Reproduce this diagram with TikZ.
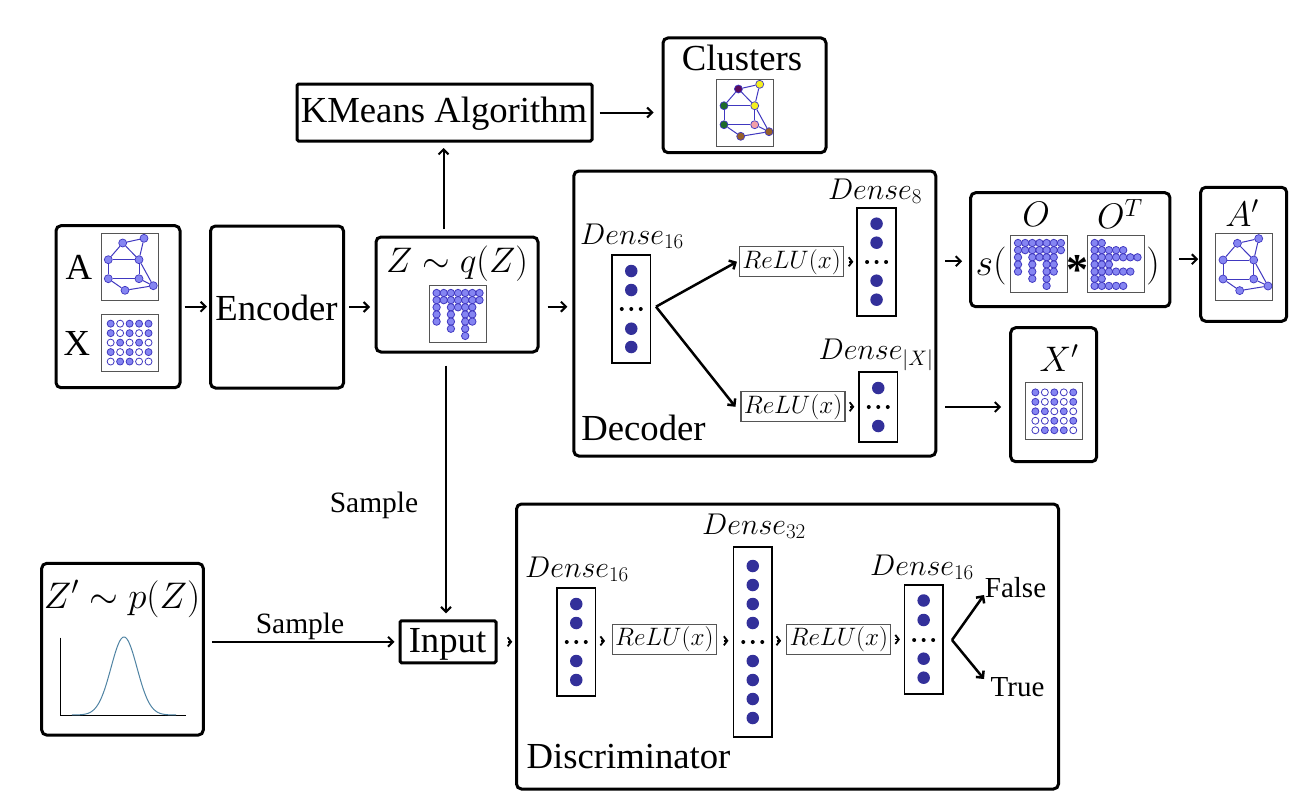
\RequirePackage{fix-cm}
\documentclass[tikz,border=0pt]{standalone}
\usepackage[no-math]{fontspec}
\setmainfont{Liberation Serif}
\usetikzlibrary{arrows.meta,calc}
\definecolor{gfill}{HTML}{8585F2}
\definecolor{gline}{HTML}{4038C0}
\definecolor{denseblue}{HTML}{33309A}
\definecolor{framegray}{HTML}{555555}
\definecolor{bell}{HTML}{4F83A3}
\definecolor{cpurple}{HTML}{5A0A5E}
\definecolor{cyellow}{HTML}{F5F01E}
\definecolor{cgreen}{HTML}{1E6B2A}
\definecolor{cpink}{HTML}{F2A0A8}
\definecolor{cbrown}{HTML}{96602A}
\tikzset{
  outerbox/.style={draw=black,line width=3pt,rounded corners=5pt,inner sep=0pt,fill=white},
  squarebox/.style={draw=black,line width=3pt,rounded corners=1.5pt,inner sep=0pt,fill=white},
  imgbox/.style={draw=framegray,line width=1pt,inner sep=0pt,fill=white},
  layerbox/.style={draw=black,line width=1.8pt,inner sep=0pt,minimum width=38.5pt,fill=white},
  relubox/.style={draw=framegray,line width=1.1pt,inner sep=0pt,minimum width=104pt,minimum height=30pt,fill=white,font=\fontsize{25.2}{27}\selectfont},
  gnode/.style={circle,draw=gline,line width=.7pt,inner sep=0pt,minimum size=8pt},
  gedge/.style={draw=gline,line width=1pt},
  mdot/.style={circle,draw=gline,line width=.8pt,inner sep=0pt,minimum size=7pt},
  bigdot/.style={circle,fill=denseblue,inner sep=0pt,minimum size=12.5pt},
  blackdot/.style={circle,fill=black,inner sep=0pt,minimum size=4pt},
  arr/.style={draw=black,line width=2pt,-{Straight Barb[length=5pt,width=10pt]}},
  branch/.style={arr,line width=2.5pt},
  chevarr/.style={draw=black,line width=1.8pt,-{Straight Barb[length=3.5pt,width=9pt]}},
  txt/.style={inner sep=0pt,font=\fontsize{36.7}{40}\selectfont},
  small/.style={inner sep=0pt,font=\fontsize{29.5}{31}\selectfont},
  mth/.style={inner sep=0pt,font=\fontsize{35.5}{38}\selectfont},
  dns/.style={inner sep=0pt,font=\fontsize{30}{32}\selectfont},
}
\newcommand{\graphpic}[3]{%
  \node[imgbox,minimum width=57pt,minimum height=67pt] (#1) at (#2+28.5,#3+33.5) {};
  \foreach \n/\a/\b in {a/21.7/10,b/43/5.3,c/7.3/26.7,d/38/26.7,e/7.3/45.7,f/38/45.7,g/24/57.3,h/52.3/52.7}
    \node[gnode,fill=\csname col\n\endcsname] (#1\n) at (#2+\a,#3+\b) {};
  \foreach \u/\v in {a/b,a/c,a/d,b/d,c/d,c/e,d/f,e/f,e/g,g/h,f/h,d/h}
    \draw[gedge] (#1\u) -- (#1\v);
}
\newcommand{\setcols}[8]{\def\cola{#1}\def\colb{#2}\def\colc{#3}\def\cold{#4}\def\cole{#5}\def\colf{#6}\def\colg{#7}\def\colh{#8}}
\newcommand{\featbox}[4]{%
  \node[imgbox,minimum width=57pt,minimum height=57pt] (#1) at (#2+28.5,#3+28.5) {};
  \foreach \row [count=\j] in {#4}
    \foreach \v [count=\i] in \row {
      \ifnum\v=1\def\fc{gfill}\else\def\fc{white}\fi
      \node[mdot,fill=\fc] (#1-\j-\i) at (#2+.2+9.47*\i,#3+.2+9.47*\j) {};
    }
}
\newcommand{\outbox}[4]{%
  \node[imgbox,minimum width=57pt,minimum height=57pt] (#1) at (#2+28.5,#3+28.5) {};
  \foreach \row [count=\j] in {#4}
    \foreach \v [count=\i] in \row {
      \ifnum\v=1
      \node[mdot,fill=gfill,minimum size=7.4pt] (#1-\j-\i) at (#2+.15+7.15*\i,#3+.15+7.15*\j) {};
      \fi
    }
}
\newcommand{\layer}[6]{%
  \node[layerbox,minimum height={(#4-#3)*1pt}] (#1) at (#2+19.25,{(#3+#4)/2}) {};
  \foreach \y [count=\k] in {#5}
    \node[bigdot] (#1-\k) at (#2+19.25,\y) {};
  \foreach \d [count=\k] in {-9.5,0,9.5}
    \node[blackdot] (#1-e\k) at (#2+19.25+\d,#6) {};
}
\newcommand{\chev}[3]{\draw[chevarr] ($(#1)!#3!(#2)+(-2,0)$) -- ($(#1)!#3!(#2)+(2.5,0)$);}
\begin{document}
\begin{tikzpicture}[x=1pt,y=-1pt]
\useasboundingbox (0,0) rectangle (1308,811);
\node[outerbox,minimum width=124pt,minimum height=162pt] (ax) at (118,306.7) {};
\node[outerbox,minimum width=133pt,minimum height=162pt] (enc) at (277,307) {};
\node[txt] (enclab) at (276.5,308) {Encoder};
\node[outerbox,minimum width=162pt,minimum height=115pt] (z) at (457,294.5) {};
\node[squarebox,minimum width=295pt,minimum height=57pt] (km) at (444.5,112.5) {};
\node[txt] (kmlab) at (444,114) {KMeans Algorithm};
\node[outerbox,minimum width=163pt,minimum height=114.7pt] (cl) at (744.5,95.3) {};
\node[txt] (cllab) at (742,58) {Clusters};
\node[outerbox,minimum width=362pt,minimum height=285pt] (dec) at (754.8,313.5) {};
\node[outerbox,minimum width=199.3pt,minimum height=114pt] (o) at (1070.3,249.7) {};
\node[outerbox,minimum width=86pt,minimum height=134pt] (ap) at (1243.7,254.3) {};
\node[outerbox,minimum width=86pt,minimum height=134pt] (xp) at (1053.7,394.7) {};
\node[outerbox,minimum width=542pt,minimum height=285pt] (disc) at (787.5,646.5) {};
\node[outerbox,minimum width=161.6pt,minimum height=171.7pt] (zp) at (122.5,649.2) {};
\node[squarebox,minimum width=96pt,minimum height=42pt] (inp) at (448,641.8) {};
\node[txt] (inplab) at (447.5,644) {Input};
\node[txt] (alab) at (79,267) {A};
\node[txt] (xlab) at (77,343) {X};
\setcols{gfill}{gfill}{gfill}{gfill}{gfill}{gfill}{gfill}{gfill}
\graphpic{ga}{101}{233}
\featbox{mx}{101}{314}{{1,0,1,1,1},{1,0,1,0,1},{0,1,0,1,0},{1,0,1,0,1},{0,1,1,0,0}}
\node[mth] (zlab) at (457,264) {$Z\sim q(Z)$};
\outbox{mz}{429.3}{285.7}{{1,1,1,1,1,1,1},{1,1,1,1,1,1,1},{1,0,1,1,1,1,0},{1,0,1,0,1,1,0},{1,0,1,0,1,1,0},{0,0,1,0,1,0,0},{0,0,0,0,1,0,0}}
\setcols{cpurple}{cyellow}{cgreen}{cyellow}{cgreen}{cpink}{cbrown}{cbrown}
\graphpic{gc}{716.7}{79}
\node[txt] (declab) at (643.5,428) {Decoder};
\layer{d1}{612}{255}{363.3}{271,290,328.7,347}{309}
\node[dns] (d1lab) at (632,236) {$Dense_{16}$};
\node[relubox] (r1) at (791.5,261.7) {$ReLU(x)$};
\layer{d2}{857.3}{207.7}{316}{223.7,242.7,280.7,299.7}{262}
\node[dns] (d2lab) at (875,191) {$Dense_{8}$};
\node[relubox] (r2) at (793,406.8) {$ReLU(x)$};
\layer{d3}{859}{371.7}{441.7}{388,426}{407}
\node[dns] (d3lab) at (876,355) {$Dense_{|X|}$};
\coordinate (split) at (656,306.7);
\draw[branch] (split) -- ([xshift=-2pt]r1.west);
\draw[branch] (split) -- ([xshift=-5pt]r2.west);
\chev{r1.east}{d2.west}{.55}
\chev{r2.east}{d3.west}{.5}
\node[mth,font=\fontsize{38}{40}\selectfont] (slab) at (991,266) {$s($};
\node[mth] (olab) at (1036,214) {$O$};
\node[mth] (otlab) at (1120,214) {$O^{T}$};
\outbox{mo}{1010.7}{235.7}{{1,1,1,1,1,1,1},{1,1,1,1,1,1,1},{1,0,1,1,1,1,0},{1,0,1,0,1,1,0},{1,0,1,0,1,1,0},{0,0,1,0,1,0,0},{0,0,0,0,1,0,0}}
\node[inner sep=0pt,font=\fontsize{44}{46}\selectfont\bfseries] (star) at (1077,270) {*};
\outbox{mt}{1087.3}{235.7}{{1,1,0,0,0,0,0},{1,1,1,1,1,0,0},{1,1,1,1,1,1,1},{1,1,1,0,0,0,0},{1,1,1,1,1,1,0},{1,1,0,0,0,0,0},{1,1,1,1,1,0,0}}
\node[mth,font=\fontsize{38}{40}\selectfont] (cp) at (1153,266) {$)$};
\node[mth] (aplab) at (1242,213) {$A'$};
\setcols{gfill}{gfill}{gfill}{gfill}{gfill}{gfill}{gfill}{gfill}
\graphpic{gp}{1215.7}{233.3}
\node[mth] (xplab) at (1059,358) {$X'$};
\featbox{mp}{1025.7}{382.7}{{1,0,1,0,1},{1,0,1,0,1},{1,1,0,1,0},{0,0,1,0,1},{0,1,1,1,0}}
\node[mth,font=\fontsize{37}{39}\selectfont] (zplab) at (122,599) {$Z'\sim p(Z)$};
\coordinate (ao) at (60.7,715.3);
\draw[black,line width=1pt] (60.7,637.7) -- (ao) -- (186,715.3);
\draw[bell,line width=1pt] plot[domain=72:176,samples=90,smooth] (\x,{715-78*exp(-((\x-124)^2)/(2*13*13))});
\node[txt] (disclab) at (628.5,757) {Discriminator};
\layer{e1}{557}{587.7}{696.3}{604,623,661,680}{642}
\node[dns] (e1lab) at (577,569) {$Dense_{16}$};
\node[relubox] (s1) at (664.3,639.3) {$ReLU(x)$};
\layer{e2}{733.5}{546.7}{737}{566,585,604,623,661,680,699,718}{642}
\node[dns] (e2lab) at (754,526) {$Dense_{32}$};
\node[relubox] (s2) at (838.8,639.3) {$ReLU(x)$};
\layer{e3}{904.4}{585.3}{693.7}{600.5,620,658.7,677.7}{640}
\node[dns] (e3lab) at (922,567) {$Dense_{16}$};
\node[small,font=\fontsize{29}{31}\selectfont] (fal) at (1015.5,588) {False};
\node[small,font=\fontsize{29}{31}\selectfont] (tru) at (1017.5,687) {True};
\coordinate (split2) at (952,640);
\coordinate (falt) at (984,595);
\coordinate (trut) at (984,679);
\draw[branch] (split2) -- (falt);
\draw[branch] (split2) -- (trut);
\chev{e1.east}{s1.west}{.4}
\chev{s1.east}{e2.west}{.58}
\chev{e2.east}{s2.west}{.43}
\chev{s2.east}{e3.west}{.5}
\chev{inp.east}{inp.east -| disc.west}{.7}
\draw[arr,shorten <=3pt,shorten >=2pt] (ax.east) -- (ax.east -| enc.west);
\draw[arr,shorten <=4pt,shorten >=4.5pt] (enc.east) -- (enc.east -| z.west);
\draw[arr,shorten <=6.5pt,shorten >=5.5pt] ([xshift=-1pt]z.north -| km.south) -- ([xshift=-1pt]km.south);
\draw[arr,shorten <=6pt,shorten >=8pt] (km.east) -- (km.east -| cl.west);
\draw[arr,shorten <=8pt,shorten >=5pt] ([yshift=-12.2pt]z.east) -- ([yshift=-12.2pt]z.east -| dec.west);
\draw[arr,shorten <=8pt,shorten >=7pt] ([yshift=-11.5pt]o.west -| dec.east) -- ([yshift=-11.5pt]o.west);
\draw[arr,shorten <=8pt,shorten >=1pt] ([yshift=-9.5pt]o.east) -- ([yshift=-9.5pt]o.east -| ap.west);
\draw[arr,shorten <=8pt,shorten >=8pt] (d3-e2 -| dec.east) -- (d3-e2 -| xp.west);
\draw[arr,shorten <=12pt,shorten >=6pt] ([xshift=-2pt]z.south -| inp.north) -- ([xshift=-2pt]inp.north);
\draw[arr,shorten <=7pt,shorten >=4pt] (zp.east |- inp.west) -- (inp.west);
\node[small] (s1lab) at (374,505) {Sample};
\node[small] (s2lab) at (300,626) {Sample};
\end{tikzpicture}
\end{document}
